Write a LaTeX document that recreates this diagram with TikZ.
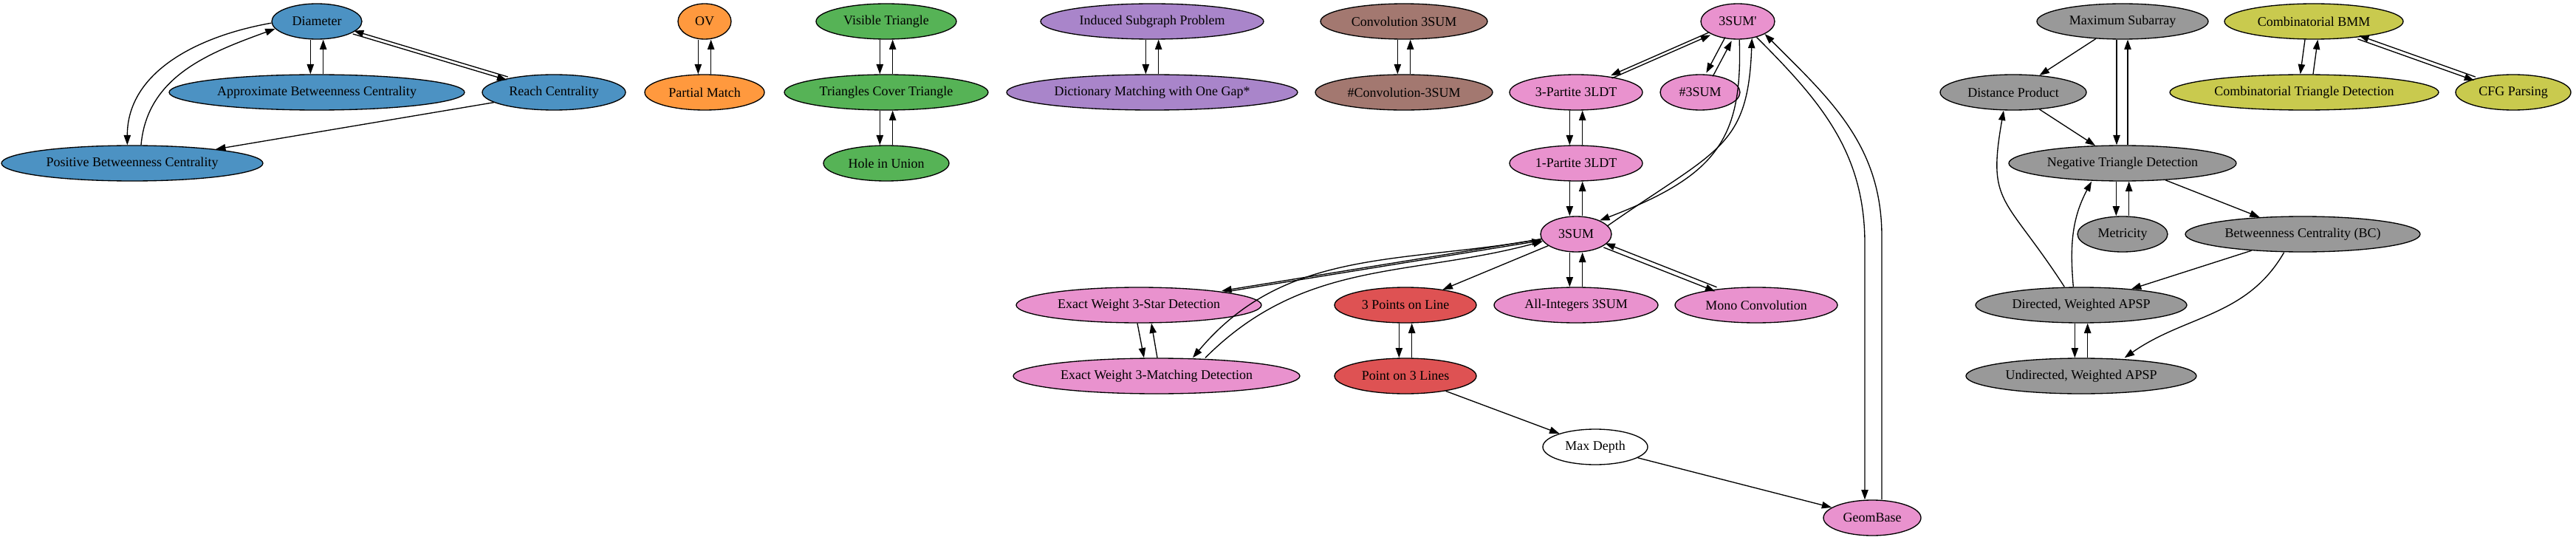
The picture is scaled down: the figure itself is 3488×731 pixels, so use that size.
\documentclass[tikz,border=0pt]{standalone}
\usepackage{fontspec}
\setmainfont{Liberation Serif}
\usetikzlibrary{shapes.geometric,arrows.meta}
\definecolor{cblue}{HTML}{4C92C3}
\definecolor{corange}{HTML}{FF993E}
\definecolor{cgreen}{HTML}{56B356}
\definecolor{cred}{HTML}{DE5253}
\definecolor{cpurple}{HTML}{A985CA}
\definecolor{cbrown}{HTML}{A37870}
\definecolor{cpink}{HTML}{E992CE}
\definecolor{cgray}{HTML}{999999}
\definecolor{colive}{HTML}{C9CA4E}
\begin{document}
\begin{tikzpicture}[x=0.75pt,y=-0.75pt,
  prob/.style={ellipse,draw,line width=1pt,inner xsep=2pt,inner ysep=2pt,
    minimum width=54pt,minimum height=36pt,font=\fontsize{13.5}{16}\selectfont},
  wd/.style={minimum width=#1*1.5pt},
  arr/.style={-{Triangle[length=10pt,width=7pt]},line width=1pt},
  lft/.style={transform canvas={xshift=-6.5pt}},
  rgt/.style={transform canvas={xshift=6.5pt}},
  sh/.style={transform canvas={shift={#1}}}]
\useasboundingbox (0,0) rectangle (3488,731);
%青
\node[prob,wd=61,fill=cblue] (DIA) at (429,29) {Diameter};
\node[prob,wd=200,fill=cblue] (ABC) at (429,125) {Approximate Betweenness Centrality};
\node[prob,wd=97,fill=cblue] (RC) at (750,125) {Reach Centrality};
\node[prob,wd=177,fill=cblue] (PBC) at (179,221) {Positive Betweenness Centrality};
\draw[arr,lft] (DIA) -- (ABC);
\draw[arr,rgt] (ABC) -- (DIA);
\draw[arr,sh={(-0.5pt,-1.6pt)}] (DIA) -- (RC);
\draw[arr,sh={(0.5pt,1.6pt)}] (RC) -- (DIA);
\draw[arr] (DIA.182) to[out=190,in=90] ([xshift=-5pt]PBC.north);
\draw[arr] ([xshift=9pt]PBC.north) to[out=85,in=200] (DIA.190);
\draw[arr] (RC) -- (PBC);
%橙
\node[prob,wd=36,fill=corange] (OV) at (954,29) {OV};
\node[prob,wd=81,fill=corange] (PM) at (954,125) {Partial Match};
\draw[arr,lft] (OV) -- (PM);
\draw[arr,rgt] (PM) -- (OV);
%緑
\node[prob,wd=95,fill=cgreen] (VT) at (1200,29) {Visible Triangle};
\node[prob,wd=138,fill=cgreen] (TCT) at (1200,125) {Triangles Cover Triangle};
\node[prob,wd=85,fill=cgreen] (HU) at (1200,221) {Hole in Union};
\draw[arr,lft] (VT) -- (TCT);
\draw[arr,rgt] (TCT) -- (VT);
\draw[arr,lft] (TCT) -- (HU);
\draw[arr,rgt] (HU) -- (TCT);
%紫
\node[prob,wd=151,fill=cpurple] (ISP) at (1560,29) {Induced Subgraph Problem};
\node[prob,wd=197,fill=cpurple] (DMG) at (1560,125) {Dictionary Matching with One Gap*};
\draw[arr,lft] (ISP) -- (DMG);
\draw[arr,rgt] (DMG) -- (ISP);
%茶
\node[prob,wd=113,fill=cbrown] (CTS) at (1901,29) {Convolution 3SUM};
\node[prob,wd=120,fill=cbrown] (NCTS) at (1901,125) {\#Convolution-3SUM};
\draw[arr,lft] (CTS) -- (NCTS);
\draw[arr,rgt] (NCTS) -- (CTS);
%ピンク
\node[prob,wd=50,fill=cpink] (TSP) at (2353,29) {3SUM\textquotesingle};
\node[prob,wd=90,fill=cpink] (PT3) at (2134,125) {3-Partite 3LDT};
\node[prob,wd=54,fill=cpink] (NTS) at (2302,125) {\#3SUM};
\node[prob,wd=90,fill=cpink] (PT1) at (2134,221) {1-Partite 3LDT};
\node[prob,wd=48,fill=cpink] (TS) at (2134,317) {3SUM};
\node[prob,wd=166,fill=cpink] (EWS) at (1542,413) {Exact Weight 3-Star Detection};
\node[prob,wd=96,fill=cred] (TPL) at (1903,413) {3 Points on Line};
\node[prob,wd=111,fill=cpink] (AIT) at (2134,413) {All-Integers 3SUM};
\node[prob,wd=110,fill=cpink] (MC) at (2378,413) {Mono Convolution};
\node[prob,wd=194,fill=cpink] (EWM) at (1566,509) {Exact Weight 3-Matching Detection};
\node[prob,wd=96,fill=cred] (PTL) at (1903,509) {Point on 3 Lines};
\node[prob,wd=71,fill=white] (MD) at (2160,605) {Max Depth};
\node[prob,wd=66,fill=cpink] (GB) at (2535,701) {GeomBase};
\coordinate (gbi) at (2525,330);
\coordinate (gbo) at (2548,320);
\draw[arr,sh={(-0.6pt,1.4pt)}] (TSP) -- (PT3);
\draw[arr,sh={(0.6pt,-1.4pt)}] (PT3) -- (TSP);
\draw[arr,sh={(-3.3pt,1.8pt)}] (TSP) -- (NTS);
\draw[arr,sh={(3.3pt,-1.8pt)}] (NTS) -- (TSP);
\draw[arr] (TSP.-85) to[out=-88,in=21,out distance=103pt,in distance=125pt] (TS.30);
\draw[arr] (TS.15) to[out=35,in=-92,out distance=135pt,in distance=112pt] (TSP.-50);
\draw[arr] (TSP.-40) to[out=-45,in=90] (gbi) -- ([xshift=-7.5pt]GB.north);
\draw[arr] ([xshift=9.75pt]GB.north) -- (gbo) to[out=90,in=-45] (TSP.-25);
\draw[arr,lft] (PT3) -- (PT1);
\draw[arr,rgt] (PT1) -- (PT3);
\draw[arr,lft] (PT1) -- (TS);
\draw[arr,rgt] (TS) -- (PT1);
\draw[arr,sh={(0pt,0.8pt)}] (TS) -- (EWS);
\draw[arr,sh={(0pt,-0.8pt)}] (EWS) -- (TS);
\draw[arr] (TS.188) to[out=190,in=50] ([xshift=36.75pt]EWM.north);
\draw[arr] ([xshift=49.5pt]EWM.north) to[out=45,in=195] (TS.192);
\draw[arr] ([xshift=-1.5pt]EWS.south) -- ([xshift=-12.75pt]EWM.north);
\draw[arr] ([xshift=0.75pt]EWM.north) -- ([xshift=12.75pt]EWS.south);
\draw[arr] (TS) -- (TPL);
\draw[arr,lft] (TS) -- (AIT);
\draw[arr,rgt] (AIT) -- (TS);
\draw[arr,sh={(-0.8pt,-2.1pt)}] (TS) -- (MC);
\draw[arr,sh={(0.8pt,2.1pt)}] (MC) -- (TS);
\draw[arr,lft] (TPL) -- (PTL);
\draw[arr,rgt] (PTL) -- (TPL);
\draw[arr] (PTL) -- (MD);
\draw[arr] (MD) -- (GB);
%灰
\node[prob,wd=116,fill=cgray] (MSA) at (2874,29) {Maximum Subarray};
\node[prob,wd=99,fill=cgray] (DP) at (2726,125) {Distance Product};
\node[prob,wd=154,fill=cgray] (NTD) at (2874,221) {Negative Triangle Detection};
\node[prob,wd=61,fill=cgray] (MET) at (2874,317) {Metricity};
\node[prob,wd=159,fill=cgray] (BC) at (3118,317) {Betweenness Centrality (BC)};
\node[prob,wd=143,fill=cgray] (DWA) at (2818,413) {Directed, Weighted APSP};
\node[prob,wd=156,fill=cgray] (UWA) at (2818,509) {Undirected, Weighted APSP};
\draw[arr] (MSA) -- (DP);
\draw[arr,transform canvas={xshift=-6pt}] (MSA) -- (NTD);
\draw[arr,transform canvas={xshift=5.25pt}] (NTD) -- (MSA);
\draw[arr] (DP) -- (NTD);
\draw[arr,lft] (NTD) -- (MET);
\draw[arr,rgt] (MET) -- (NTD);
\draw[arr] (NTD) -- (BC);
\draw[arr] ([xshift=-17pt]DWA.north) to[out=123,in=-100,out distance=112pt,in distance=98pt] ([xshift=-9.75pt]DP.south);
\draw[arr] ([xshift=-8pt]DWA.north) to[out=95,in=-118] ([xshift=-31.5pt]NTD.south);
\draw[arr] (BC) -- (DWA);
\draw[arr] ([xshift=-19pt]BC.south) to[out=-120,in=35] ([xshift=44pt]UWA.north);
\draw[arr,lft] (DWA) -- (UWA);
\draw[arr,rgt] (UWA) -- (DWA);
%黄
\node[prob,wd=121,fill=colive] (BMM) at (3133,29) {Combinatorial BMM};
\node[prob,wd=182,fill=colive] (CTD) at (3120,125) {Combinatorial Triangle Detection};
\node[prob,wd=78,fill=colive] (CFG) at (3403,125) {CFG Parsing};
\draw[arr,lft] (BMM) -- (CTD);
\draw[arr,rgt] (CTD) -- (BMM);
\draw[arr,sh={(-0.64pt,-1.8pt)}] (BMM) -- (CFG);
\draw[arr,sh={(0.64pt,1.8pt)}] (CFG) -- (BMM);
\end{tikzpicture}
\end{document}
